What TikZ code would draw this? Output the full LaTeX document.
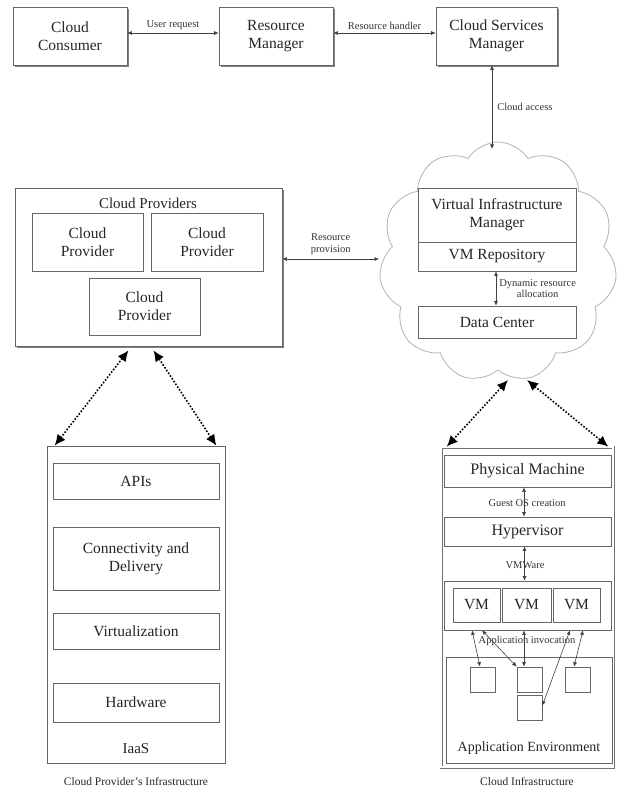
\documentclass[tikz,border=0pt]{standalone}
\usepackage{fontspec}
\setmainfont{Liberation Serif}
\usetikzlibrary{arrows.meta,shapes.symbols,shadows}
\tikzset{
  box/.style={draw=black!60, line width=0.7pt, fill=white, text=black!85, align=center, inner sep=1pt, font=\fontsize{15.5}{18}\selectfont},
  shbox/.style={box, drop shadow={shadow xshift=1.8pt, shadow yshift=-1.8pt, fill=black!50, opacity=1}},
  txt/.style={text=black!85, align=center, inner sep=1pt},
  lab/.style={text=black!80, align=center, inner sep=1pt, font=\fontsize{10.5}{11.5}\selectfont},
  captext/.style={text=black!85, align=center, inner sep=1pt, font=\fontsize{11.5}{13}\selectfont},
  arr/.style={draw=black!75, line width=0.6pt, {Latex[length=4.5pt,width=4pt]}-{Latex[length=4.5pt,width=4pt]}},
  dotarr/.style={draw=black, line width=1.6pt, dash pattern=on 1.6pt off 1.7pt, {Latex[length=11pt,width=10pt]}-{Latex[length=11pt,width=10pt]}}
}
\begin{document}
\begin{tikzpicture}[x=1pt,y=-1pt]
\useasboundingbox (0,0) rectangle (618,791);

% top row
\node[shbox, minimum width=114pt, minimum height=58pt] (cc) at (70,36) {Cloud\\Consumer};
\node[shbox, minimum width=114pt, minimum height=58pt] (rm) at (276,36) {Resource\\Manager};
\node[shbox, minimum width=121pt, minimum height=58pt] (csm) at (496.5,36) {Cloud Services\\Manager};
\draw[arr] ([yshift=3pt]cc.east) -- ([yshift=3pt]rm.west) node[midway, above=2pt, lab] {User request};
\draw[arr] ([yshift=3pt]rm.east) -- ([yshift=3pt]csm.west) node[midway, above=2pt, lab] {Resource handler};

% cloud
\node[cloud, cloud puffs=11, cloud puff arc=115, aspect=1, draw=black!30, line width=0.8pt, fill=white,
      minimum width=238pt, minimum height=240pt] (cl) at (498,262) {};
\coordinate (ctop) at (492,149);
\draw[arr] (csm.south -| ctop) -- (ctop) node[midway, right=4pt, lab] {Cloud access};

\node[box, minimum width=158pt, minimum height=54pt] (vim) at (497,215) {Virtual Infrastructure\\Manager};
\node[box, minimum width=158pt, minimum height=29pt] (vmr) at (497,256.5) {VM Repository};
\node[box, minimum width=158pt, minimum height=32pt] (dc) at (497,322) {Data Center};
\draw[arr] ([xshift=-1pt]vmr.south) -- ([xshift=-1pt]dc.north) node[midway, right=2pt, lab] {Dynamic resource\\allocation};

% cloud providers
\node[shbox, minimum width=267pt, minimum height=158pt] (cps) at (148.5,267) {};
\node[txt, font=\fontsize{15}{17}\selectfont] (cpt) at (148,203) {Cloud Providers};
\node[box, minimum width=111pt, minimum height=58pt] (cp1) at (87.5,242) {Cloud\\Provider};
\node[box, minimum width=112pt, minimum height=58pt] (cp2) at (207,242) {Cloud\\Provider};
\node[box, minimum width=111pt, minimum height=57pt] (cp3) at (144.5,306.5) {Cloud\\Provider};
\coordinate (rp) at (379,259);
\draw[arr] (cps.east |- rp) -- (rp) node[midway, above=3pt, lab] {Resource\\provision};

% left infrastructure
\node[box, minimum width=178pt, minimum height=317pt] (infl) at (136,604.5) {};
\node[box, minimum width=166pt, minimum height=36pt] (api) at (136,481) {APIs};
\node[box, minimum width=166pt, minimum height=63pt] (con) at (136,558.5) {Connectivity and\\Delivery};
\node[box, minimum width=166pt, minimum height=36pt] (vir) at (136,631) {Virtualization};
\node[box, minimum width=166pt, minimum height=39pt] (hw) at (136,702.5) {Hardware};
\node[txt, font=\fontsize{15}{17}\selectfont] (iaas) at (136,749) {IaaS};
\node[captext] (capl) at (136,781) {Cloud Provider's Infrastructure};

% right infrastructure
\node[draw=black!55, line width=0.6pt, double=white, double distance=1.8pt, minimum width=172pt, minimum height=320pt] (infr) at (527,607) {};
\node[box, minimum width=167pt, minimum height=32pt, font=\fontsize{16}{18}\selectfont] (pm) at (527.5,471) {Physical Machine};
\node[box, minimum width=167pt, minimum height=29pt, font=\fontsize{16}{18}\selectfont] (hyp) at (527.5,531.5) {Hypervisor};
\node[box, minimum width=167pt, minimum height=49pt] (vmc) at (527.5,605.5) {};
\node[box, minimum width=47pt, minimum height=34pt] (vm1) at (476.5,605) {VM};
\node[box, minimum width=49pt, minimum height=34pt] (vm2) at (526.5,605) {VM};
\node[box, minimum width=47pt, minimum height=34pt] (vm3) at (576.5,605) {VM};
\node[box, minimum width=166pt, minimum height=106pt] (ae) at (529,710) {};
\node[txt, font=\fontsize{14}{16}\selectfont] (aet) at (529,748) {Application Environment};
\node[box, minimum width=25pt, minimum height=25pt] (s1) at (482.5,679.5) {};
\node[box, minimum width=25pt, minimum height=25pt] (s2) at (529.5,679.5) {};
\node[box, minimum width=25pt, minimum height=25pt] (s3) at (577.5,679.5) {};
\node[box, minimum width=25pt, minimum height=25pt] (s4) at (529.5,707.5) {};
\node[captext] (capr) at (527,781) {Cloud Infrastructure};

\draw[arr] ([xshift=-3.5pt]pm.south) -- ([xshift=-3.5pt]hyp.north);
\node[lab] (gos) at (527,503) {Guest OS creation};
\draw[arr] ([xshift=-3pt]hyp.south) -- ([xshift=-3pt]vmc.north);
\node[lab] (vmw) at (525,565) {VMWare};

\node[lab] (aiv) at (527,641) {Application invocation};
\draw[arr] ([xshift=-4.5pt]vm1.south |- vmc.south) -- ([xshift=-2.5pt]s1.north);
\draw[arr] ([xshift=5.5pt]vm1.south |- vmc.south) -- (s2.north west);
\draw[arr] ([xshift=-2.5pt]vm2.south |- vmc.south) -- ([xshift=-5.5pt]s2.north);
\draw[arr] ([xshift=-6.5pt]vm3.south |- vmc.south) -- ([yshift=2pt]s4.east);
\draw[arr] ([xshift=6.5pt]vm3.south |- vmc.south) -- ([xshift=-3.5pt]s3.north);

% dotted connectors
\draw[dotarr] ([xshift=-20pt,yshift=-4pt]cps.south) -- ([xshift=8pt]infl.north west);
\draw[dotarr] ([xshift=5pt,yshift=-4pt]cps.south) -- ([xshift=-9pt]infl.north east);
\coordinate (cb1) at (508,380);
\coordinate (cb2) at (527,380);
\draw[dotarr] (cb1) -- ([xshift=6pt]infr.north west);
\draw[dotarr] (cb2) -- ([xshift=-5pt]infr.north east);
\end{tikzpicture}
\end{document}
